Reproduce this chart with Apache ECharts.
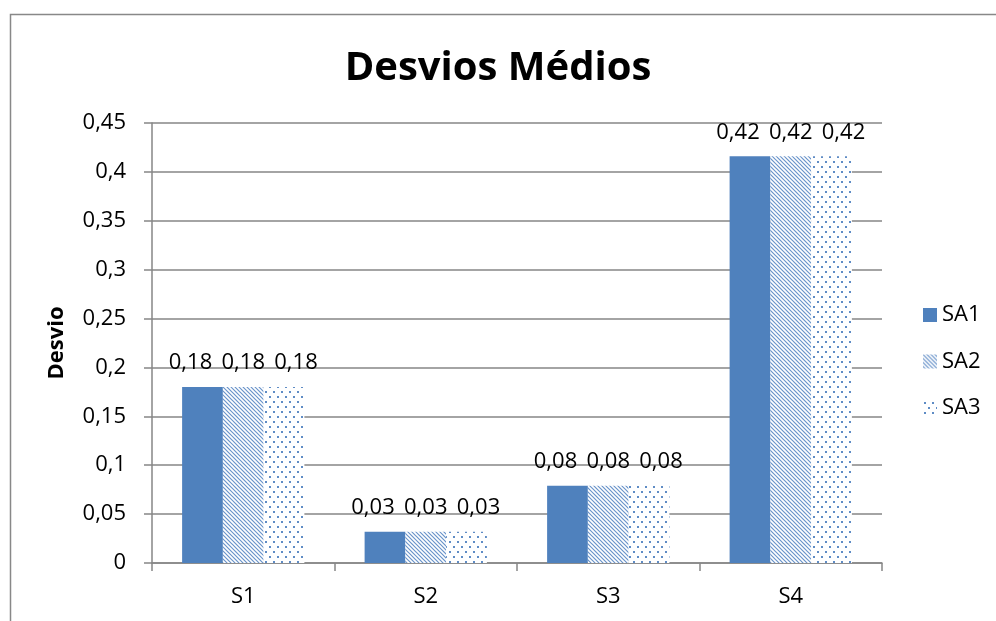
<!DOCTYPE html>
<html><head><meta charset="utf-8">
<script src="https://cdn.jsdelivr.net/npm/echarts@6/dist/echarts.min.js"></script>
<style>html,body{margin:0;padding:0;background:#fff}#c{width:996px;height:621px}</style>
</head><body><div id="c"></div>
<script>
const categories = ['S1', 'S2', 'S3', 'S4'];
const seriesNames = ['SA1', 'SA2', 'SA3'];
const sa1 = [0.18, 0.032, 0.079, 0.416];
const sa2 = [0.18, 0.032, 0.079, 0.416];
const sa3 = [0.18, 0.032, 0.079, 0.416];
const yMin = 0, yMax = 0.45, yStep = 0.05;
const titleText = 'Desvios Médios';
const yAxisTitle = 'Desvio';

const FONT = '"Open Sans", sans-serif';
const BLUE = '#4F81BD';

function stripePattern() {
  const c = document.createElement('canvas');
  c.width = 8; c.height = 8;
  const g = c.getContext('2d');
  g.fillStyle = '#fff'; g.fillRect(0, 0, 8, 8);
  g.strokeStyle = '#6A94CA'; g.lineWidth = 1.2;
  g.beginPath();
  for (let b = -12; b <= 12; b += 4) { g.moveTo(-2, b - 2); g.lineTo(10, b + 10); }
  g.stroke();
  return c;
}
function dotPattern() {
  const c = document.createElement('canvas');
  c.width = 8; c.height = 10;
  const g = c.getContext('2d');
  g.fillStyle = '#fff'; g.fillRect(0, 0, 8, 10);
  g.fillStyle = '#5F8CC5';
  g.fillRect(1, 1, 2, 2);
  g.fillRect(5, 6, 2, 2);
  return c;
}
const fills = [BLUE, { image: stripePattern(), repeat: 'repeat' }, { image: dotPattern(), repeat: 'repeat' }];
const labelShift = [[-12, 0], [0, 0], [12, 0]];
const dataSets = [sa1, sa2, sa3];

const fmt = v => v.toFixed(2).replace('.', ',');

const chart = echarts.init(document.getElementById('c'));
chart.setOption({
  animation: false,
  backgroundColor: '#fff',
  textStyle: { fontFamily: FONT },
  title: {
    text: titleText, left: 'center', top: 44,
    textStyle: { fontFamily: FONT, fontSize: 40, fontWeight: 'bold', color: '#000' }
  },
  graphic: [{
    type: 'rect', silent: true,
    shape: { x: 10.5, y: 14.5, width: 1100, height: 800 },
    style: { fill: 'none', stroke: '#888', lineWidth: 1.5 }
  }],
  legend: {
    orient: 'vertical', left: 918, top: 299,
    itemWidth: 14, itemHeight: 14, itemGap: 24.5,
    icon: 'rect',
    data: seriesNames,
    textStyle: { fontFamily: FONT, fontSize: 22, color: '#000' }
  },
  grid: { left: 152, right: 114, top: 123, bottom: 58, containLabel: false },
  xAxis: {
    type: 'category', data: categories,
    axisLine: { lineStyle: { color: '#868686', width: 1.5 } },
    axisTick: { show: true, length: 8, lineStyle: { color: '#868686', width: 1.5 } },
    axisLabel: { fontFamily: FONT, fontSize: 22, color: '#000', margin: 23 }
  },
  yAxis: {
    type: 'value', min: yMin, max: yMax, interval: yStep,
    name: yAxisTitle, nameLocation: 'middle', nameGap: 84, nameRotate: 90,
    nameTextStyle: { fontFamily: FONT, fontSize: 22, fontWeight: 'bold', color: '#000' },
    axisLine: { show: true, lineStyle: { color: '#868686', width: 1.5 } },
    axisTick: { show: true, length: 8, lineStyle: { color: '#868686', width: 1.5 } },
    splitLine: { lineStyle: { color: '#868686', width: 1.5 } },
    axisLabel: { fontFamily: FONT, fontSize: 22, color: '#000', margin: 26,
      formatter: v => String(+v.toFixed(2)).replace('.', ',') }
  },
  series: seriesNames.map((n, i) => ({
    name: n, type: 'bar', data: dataSets[i],
    barGap: '0%', barCategoryGap: '33%',
    itemStyle: { color: fills[i] },
    label: { show: true, position: 'top', distance: 13, offset: labelShift[i],
      fontFamily: FONT, fontSize: 22, color: '#000',
      formatter: p => fmt(p.value) }
  }))
});
</script></body></html>
